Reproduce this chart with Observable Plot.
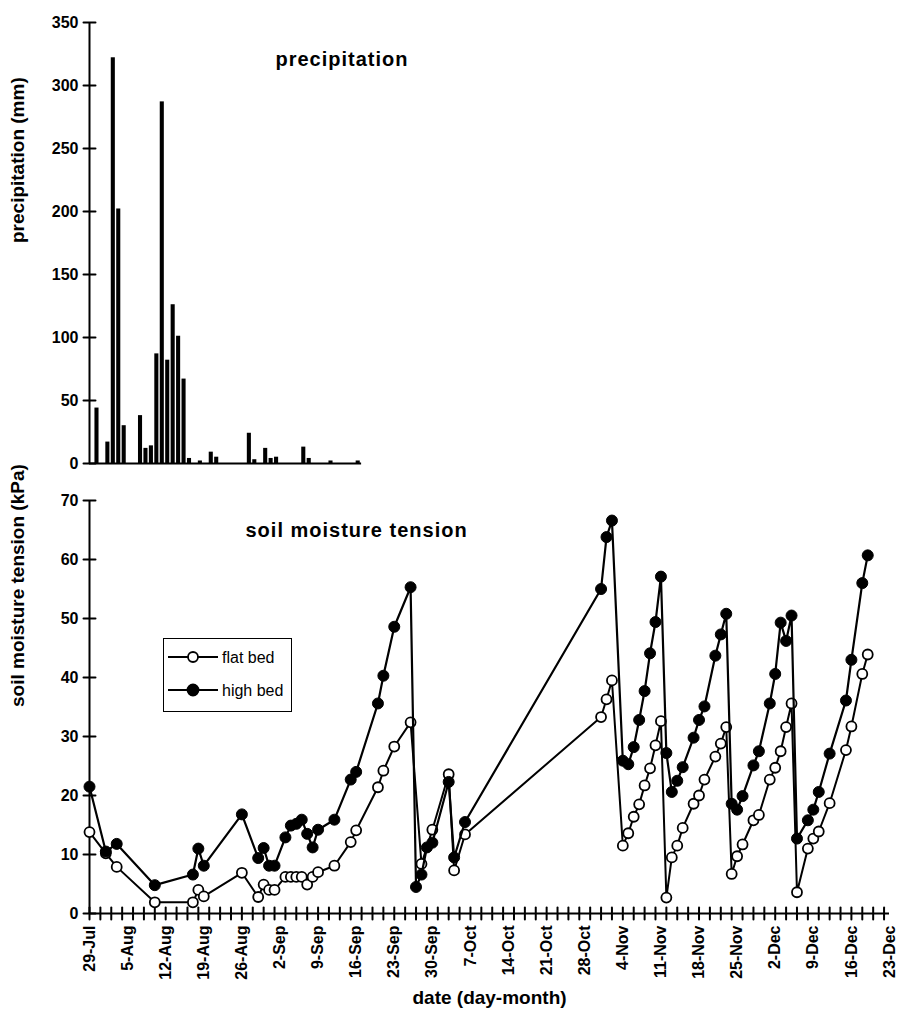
<!DOCTYPE html>
<html><head><meta charset="utf-8">
<script src="https://cdn.jsdelivr.net/npm/d3@7"></script>
<script src="https://cdn.jsdelivr.net/npm/@observablehq/plot@0.6"></script>
<style>
body{margin:0;background:#fff;}
#wrap{position:relative;width:899px;height:1018px;font-family:"Liberation Sans",Arial,sans-serif;}
#wrap svg{display:block;}
#legend{position:absolute;left:163px;top:638px;width:127px;height:72px;border:1.5px solid #000;background:#fff;}
</style></head><body><div id="wrap"></div>
<script>
// ---------- data ----------
const year = "2000";
const axisStart = "07-29";
const axisEnd = "12-23";

const precipDays = ["07-30","08-01","08-02","08-03","08-04","08-07","08-08","08-09","08-10","08-11","08-12","08-13","08-14","08-15","08-16","08-18","08-20","08-21","08-27","08-28","08-30","08-31","09-01","09-06","09-07","09-11","09-16"];
const precipMm   = [44,17,322,202,30,38,12,14,87,287,82,126,101,67,4,2,9,5,24,3,12,4,5,13,4,2,2];

const highDays = ["07-29","08-01","08-03","08-10","08-17","08-18","08-19","08-26","08-29","08-30","08-31","09-01","09-03","09-04","09-05","09-06","09-07","09-08","09-09","09-12","09-15","09-16","09-20","09-21","09-23","09-26","09-27","09-28","09-29","09-30","10-03","10-04","10-06","10-31","11-01","11-02","11-04","11-05","11-06","11-07","11-08","11-09","11-10","11-11","11-12","11-13","11-14","11-15","11-17","11-18","11-19","11-21","11-22","11-23","11-24","11-25","11-26","11-28","11-29","12-01","12-02","12-03","12-04","12-05","12-06","12-08","12-09","12-10","12-12","12-15","12-16","12-18","12-19"];
const highKPa = [21.5,10.5,11.8,4.8,6.6,11.0,8.1,16.8,9.4,11.1,8.1,8.1,12.9,14.9,15.2,15.9,13.5,11.2,14.2,15.9,22.7,24.0,35.6,40.3,48.6,55.3,4.5,6.6,11.2,12.0,22.3,9.5,15.5,55.0,63.8,66.6,25.9,25.3,28.2,32.8,37.7,44.1,49.4,57.1,27.2,20.6,22.5,24.8,29.8,32.8,35.1,43.7,47.3,50.8,18.6,17.6,19.9,25.1,27.5,35.6,40.6,49.3,46.2,50.5,12.7,15.8,17.6,20.6,27.1,36.1,43.0,56.0,60.7];

const flatDays = ["07-29","08-01","08-03","08-10","08-17","08-18","08-19","08-26","08-29","08-30","08-31","09-01","09-03","09-04","09-05","09-06","09-07","09-08","09-09","09-12","09-15","09-16","09-20","09-21","09-23","09-26","09-28","09-30","10-03","10-04","10-06","10-31","11-01","11-02","11-04","11-05","11-06","11-07","11-08","11-09","11-10","11-11","11-12","11-13","11-14","11-15","11-17","11-18","11-19","11-21","11-22","11-23","11-24","11-25","11-26","11-28","11-29","12-01","12-02","12-03","12-04","12-05","12-06","12-08","12-09","12-10","12-12","12-15","12-16","12-18","12-19"];
const flatKPa = [13.8,10.2,7.9,1.9,1.9,4.0,2.9,6.9,2.8,4.9,4.0,4.0,6.2,6.2,6.2,6.2,4.9,6.2,7.0,8.1,12.1,14.1,21.4,24.2,28.3,32.4,8.4,14.2,23.6,7.3,13.4,33.3,36.3,39.5,11.5,13.6,16.4,18.5,21.7,24.6,28.5,32.6,2.7,9.5,11.5,14.5,18.6,20.0,22.7,26.6,28.8,31.6,6.7,9.7,11.7,15.8,16.7,22.7,24.7,27.5,31.6,35.6,3.6,11.0,12.7,13.9,18.7,27.7,31.7,40.6,43.9];

const xTickLabels = ["29-Jul","5-Aug","12-Aug","19-Aug","26-Aug","2-Sep","9-Sep","16-Sep","23-Sep","30-Sep","7-Oct","14-Oct","21-Oct","28-Oct","4-Nov","11-Nov","18-Nov","25-Nov","2-Dec","9-Dec","16-Dec","23-Dec"];
const precipTicks = [0,50,100,150,200,250,300,350];
const tensionTicks = [0,10,20,30,40,50,60,70];
const seriesNames = ["flat bed","high bed"];

// ---------- build ----------
const parseMD = d3.utcParse("%Y-%m-%d");
const parseLbl = d3.utcParse("%Y-%d-%b");
const dt = s => parseMD(year + "-" + s);
const precip = precipDays.map((d,i)=>({date: dt(d), mm: precipMm[i]}));
const high = highDays.map((d,i)=>({date: dt(d), kPa: highKPa[i]}));
const flat = flatDays.map((d,i)=>({date: dt(d), kPa: flatKPa[i]}));
const x0 = dt(axisStart), x1 = dt(axisEnd);
const xDomain = [x0, x1];
const labelDates = xTickLabels.map(s => parseLbl(year + "-" + s));
const minorTicks = d3.utcDay.range(x0, d3.utcDay.offset(x1, 1), 2);
const precipEnd = d3.utcDay.offset(d3.max(precip, d => d.date), 1);
const fmt = d3.utcFormat("%-d-%b");

// a straight line shape for cross-shaped tick marks
const bar = {draw(ctx, l) { ctx.moveTo(0, 0); ctx.lineTo(0, -l); }};

const FONT = "Liberation Sans, Arial, sans-serif";
const baseStyle = {fontFamily: FONT, fontSize: "16px", color: "#000", background: "transparent", overflow: "visible"};

const upper = Plot.plot({
  width: 899, height: 475,
  marginLeft: 89, marginRight: 10, marginTop: 22, marginBottom: 12,
  x: {type: "utc", domain: xDomain, axis: null},
  y: {domain: [0, 350], axis: null},
  style: baseStyle,
  marks: [
    Plot.rectY(precip, {x1: "date", x2: d => d3.utcHour.offset(d.date, 18), y: "mm", fill: "#000"}),
    Plot.ruleY([0], {x1: x0, x2: precipEnd, stroke: "#000", strokeWidth: 2}),
    Plot.ruleX([x0], {y1: 0, y2: 350, stroke: "#000", strokeWidth: 2}),
    Plot.vector(precipTicks, {x: x0, y: d => d, length: 12, rotate: 90, anchor: "middle", shape: bar, stroke: "#000", strokeWidth: 2}),
    Plot.axisY({ticks: precipTicks, tickSize: 0, tickPadding: 11, label: null, fontSize: 16, fontWeight: "bold"}),
    Plot.text(["precipitation (mm)"], {text: d => d, frameAnchor: "left", rotate: -90, dx: -72, fontSize: 19, fontWeight: "bold"}),
    Plot.text(["precipitation"], {text: d => d, frameAnchor: "top-left", textAnchor: "start", dx: 186, dy: 29, fontSize: 20, fontWeight: "bold"})
  ]
});

const lower = Plot.plot({
  width: 899, height: 543,
  marginLeft: 89, marginRight: 10, marginTop: 25, marginBottom: 105,
  x: {type: "utc", domain: xDomain, axis: null},
  y: {domain: [0, 70], axis: null},
  style: baseStyle,
  marks: [
    Plot.ruleY([0], {x1: x0, x2: x1, stroke: "#000", strokeWidth: 2.2}),
    Plot.ruleX([x0], {y1: 0, y2: 70, stroke: "#000", strokeWidth: 2}),
    Plot.vector(minorTicks, {x: d => d, y: 0, length: 12, rotate: 0, anchor: "middle", shape: bar, stroke: "#000", strokeWidth: 2}),
    Plot.vector(tensionTicks, {x: x0, y: d => d, length: 12, rotate: 90, anchor: "middle", shape: bar, stroke: "#000", strokeWidth: 2}),
    Plot.line(flat, {x: "date", y: "kPa", stroke: "#000", strokeWidth: 2}),
    Plot.dot(flat, {x: "date", y: "kPa", r: 5, fill: "#fff", stroke: "#000", strokeWidth: 1.8}),
    Plot.line(high, {x: "date", y: "kPa", stroke: "#000", strokeWidth: 2.2}),
    Plot.dot(high, {x: "date", y: "kPa", r: 5.5, fill: "#000", stroke: "#000", strokeWidth: 1}),
    Plot.axisY({ticks: tensionTicks, tickSize: 0, tickPadding: 11, label: null, fontSize: 16, fontWeight: "bold"}),
    Plot.axisX({ticks: labelDates, tickSize: 0, tickPadding: 12, tickRotate: -90, tickFormat: fmt, label: null, fontSize: 16, fontWeight: "bold"}),
    Plot.text(["soil moisture tension (kPa)"], {text: d => d, frameAnchor: "left", rotate: -90, dx: -72, fontSize: 19, fontWeight: "bold"}),
    Plot.text(["soil moisture tension"], {text: d => d, frameAnchor: "top-left", textAnchor: "start", dx: 156, dy: 22, fontSize: 20, fontWeight: "bold"}),
    Plot.text(["date (day-month)"], {text: d => d, frameAnchor: "bottom", dy: 90, fontSize: 19, fontWeight: "bold"})
  ]
});

const wrap = document.getElementById("wrap");
wrap.appendChild(upper);
wrap.appendChild(lower);

// letter spacing for the two panel titles
d3.selectAll("#wrap svg text").filter(function(){ return this.textContent === "precipitation" || this.textContent === "soil moisture tension"; })
  .style("letter-spacing", "1px");

// legend (inside plot area)
const leg = document.createElement("div");
leg.id = "legend";
const ls = d3.select(leg).append("svg").attr("width", 127).attr("height", 72);
seriesNames.forEach((name, i) => {
  const y = 18 + i * 33;
  ls.append("line").attr("x1", 4).attr("x2", 54).attr("y1", y).attr("y2", y).attr("stroke", "#000").attr("stroke-width", 2);
  ls.append("circle").attr("cx", 29).attr("cy", y).attr("r", i === 0 ? 5 : 5.5)
    .attr("fill", i === 0 ? "#fff" : "#000").attr("stroke", "#000").attr("stroke-width", 1.8);
  ls.append("text").attr("x", 58).attr("y", y).attr("dy", "0.35em").attr("font-family", FONT).attr("font-size", 16).text(name);
});
wrap.appendChild(leg);
</script>
</body></html>
